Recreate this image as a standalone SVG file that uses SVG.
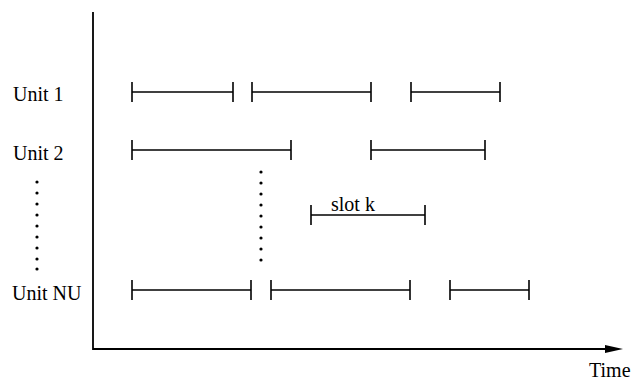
<svg xmlns="http://www.w3.org/2000/svg" width="631" height="380" viewBox="0 0 631 380">
<style>
text{font-family:"Liberation Serif","Times New Roman",serif;font-size:20px;fill:#000}
.seg line{stroke:#000;stroke-width:1.6}
.axis{stroke:#000;stroke-width:1.8;fill:none}
.dot{fill:#000}
</style>
<defs>
<marker id="arr" markerWidth="10" markerHeight="10" refX="0" refY="4" orient="auto" markerUnits="userSpaceOnUse">
<path d="M0,0 L18,4 L0,8 Z" fill="#000"/>
</marker>
</defs>
<rect width="631" height="380" fill="#fff"/>
<g id="axes">
<path class="axis" d="M93,12 V349 H606"/>
<path d="M605,345 L623,349 L605,353 Z" fill="#000"/>
<text x="589" y="377">Time</text>
</g>
<g id="labels">
<text x="13" y="101">Unit 1</text>
<text x="13" y="160">Unit 2</text>
<text x="12" y="300">Unit NU</text>
</g>
<g id="left-dots" class="dot">
<circle cx="37" cy="182" r="1.6"/><circle cx="37" cy="193" r="1.6"/><circle cx="37" cy="204" r="1.6"/>
<circle cx="37" cy="215" r="1.6"/><circle cx="37" cy="226" r="1.6"/><circle cx="37" cy="237" r="1.6"/>
<circle cx="37" cy="248" r="1.6"/><circle cx="37" cy="259" r="1.6"/><circle cx="37" cy="269" r="1.6"/>
</g>
<g id="mid-dots" class="dot">
<circle cx="261" cy="172" r="1.6"/><circle cx="261" cy="183" r="1.6"/><circle cx="261" cy="194" r="1.6"/>
<circle cx="261" cy="205" r="1.6"/><circle cx="261" cy="216" r="1.6"/><circle cx="261" cy="227" r="1.6"/>
<circle cx="261" cy="238" r="1.6"/><circle cx="261" cy="249" r="1.6"/><circle cx="261" cy="260" r="1.6"/>
</g>
<g id="unit1" class="seg">
<line x1="132" y1="92" x2="233" y2="92"/><line x1="132" y1="82" x2="132" y2="102"/><line x1="233" y1="82" x2="233" y2="102"/>
<line x1="252" y1="92" x2="371" y2="92"/><line x1="252" y1="82" x2="252" y2="102"/><line x1="371" y1="82" x2="371" y2="102"/>
<line x1="411" y1="92" x2="500" y2="92"/><line x1="411" y1="82" x2="411" y2="102"/><line x1="500" y1="82" x2="500" y2="102"/>
</g>
<g id="unit2" class="seg">
<line x1="132" y1="150" x2="291" y2="150"/><line x1="132" y1="140" x2="132" y2="160"/><line x1="291" y1="140" x2="291" y2="160"/>
<line x1="371" y1="150" x2="485" y2="150"/><line x1="371" y1="140" x2="371" y2="160"/><line x1="485" y1="140" x2="485" y2="160"/>
</g>
<g id="slotk" class="seg">
<line x1="311" y1="215" x2="425" y2="215"/><line x1="311" y1="205" x2="311" y2="225"/><line x1="425" y1="205" x2="425" y2="225"/>
<text x="331" y="211">slot k</text>
</g>
<g id="unitNU" class="seg">
<line x1="132" y1="290" x2="251" y2="290"/><line x1="132" y1="280" x2="132" y2="300"/><line x1="251" y1="280" x2="251" y2="300"/>
<line x1="271" y1="290" x2="410" y2="290"/><line x1="271" y1="280" x2="271" y2="300"/><line x1="410" y1="280" x2="410" y2="300"/>
<line x1="450" y1="290" x2="529" y2="290"/><line x1="450" y1="280" x2="450" y2="300"/><line x1="529" y1="280" x2="529" y2="300"/>
</g>
</svg>
